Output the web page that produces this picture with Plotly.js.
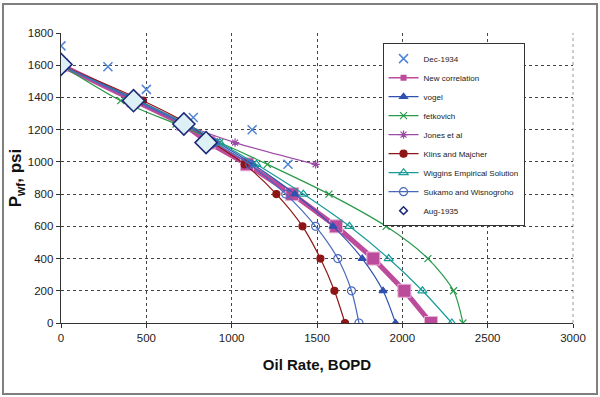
<!DOCTYPE html>
<html>
<head>
<meta charset="utf-8">
<script src="https://cdn.plot.ly/plotly-3.0.1.min.js"></script>
<style>
html,body{margin:0;padding:0;background:#fff;}
#chart{width:600px;height:397px;}
</style>
</head>
<body>
<div id="chart"></div>
<script>
// Pressure levels used by the IPR models (psi)
var modelP = [1600, 1380, 1235, 1120, 985, 800, 600, 400, 200, 0];
var jonesP = [1600, 1380, 1235, 1120, 985];

// Test data
var dec1934Q = [0, 275, 500, 775, 1120, 1330];
var dec1934P = [1720, 1590, 1450, 1275, 1200, 985];
var aug1935Q = [0, 425, 720, 850];
var aug1935P = [1605, 1380, 1235, 1120];

// Model rates (BOPD)
var newCorrQ = [0, 425, 715, 865, 1090, 1355, 1612, 1830, 2012, 2168];
var vogelQ   = [0, 456, 723, 917, 1124, 1370, 1594, 1765, 1887, 1960];
var fetkQ    = [0, 350, 674, 930, 1209, 1570, 1905, 2150, 2300, 2355];
var jonesQ   = [0, 430, 720, 1020, 1492];
var klinsQ   = [0, 480, 745, 890, 1076, 1262, 1415, 1520, 1602, 1664];
var wigginsQ = [0, 450, 735, 930, 1145, 1420, 1690, 1920, 2118, 2290];
var sukamoQ  = [0, 440, 720, 900, 1106, 1317, 1492, 1622, 1702, 1746];

var seriesNames = ["Dec-1934", "New correlation", "vogel", "fetkovich", "Jones et al",
  "Klins and Majcher", "Wiggins Empirical Solution", "Sukamo and Wisnogroho", "Aug-1935"];

var xTicks = [0, 500, 1000, 1500, 2000, 2500, 3000];
var yTicks = [0, 200, 400, 600, 800, 1000, 1200, 1400, 1600, 1800];

var FONT = "Arial, 'Liberation Sans', sans-serif";

function model(name, q, p, color, symbol, size, rank) {
  return {
    type: "scatter", mode: "lines+markers", name: name, x: q, y: p,
    line: {color: color, width: 1.2, shape: "spline", smoothing: 0.8},
    marker: {color: color, symbol: symbol, size: size, line: {color: color, width: 1.2}},
    legendrank: rank
  };
}

var traces = [
  {type: "scatter", mode: "markers", name: seriesNames[0], x: dec1934Q, y: dec1934P,
   marker: {symbol: "x-thin-open", size: 9, color: "#4f86d6", line: {color: "#4f86d6", width: 1.5}},
   legendrank: 1},
  {type: "scatter", mode: "lines+markers", name: seriesNames[1], x: newCorrQ, y: modelP,
   line: {color: "#bd4b9c", width: 5},
   marker: {symbol: "square", size: 13, color: "#bd4b9c", line: {color: "#e7b3d8", width: 1}},
   showlegend: false, legendgroup: "nc"},
  {type: "scatter", mode: "lines+markers", name: seriesNames[1], x: [null], y: [null],
   line: {color: "#bd4b9c", width: 1.5},
   marker: {symbol: "square", size: 6, color: "#bd4b9c"},
   legendgroup: "nc", legendrank: 2},
  model(seriesNames[2], vogelQ, modelP, "#2f51b0", "triangle-up", 7, 3),
  model(seriesNames[3], fetkQ, modelP, "#2a9a4a", "x-thin", 7, 4),
  model(seriesNames[4], jonesQ, jonesP, "#9c4aa6", "asterisk-open", 7, 5),
  model(seriesNames[5], klinsQ, modelP, "#8e1515", "circle", 7, 6),
  model(seriesNames[6], wigginsQ, modelP, "#189a98", "triangle-up-open", 8, 7),
  model(seriesNames[7], sukamoQ, modelP, "#4868bd", "circle-open", 8, 8),
  {type: "scatter", mode: "markers", name: seriesNames[8], x: aug1935Q, y: aug1935P,
   marker: {symbol: "diamond", size: 17, color: "#dcf0f6", line: {color: "#1c2a78", width: 1.6}},
   showlegend: false, legendgroup: "aug"},
  {type: "scatter", mode: "markers", name: seriesNames[8], x: [null], y: [null],
   marker: {symbol: "diamond", size: 6, color: "#ffffff", line: {color: "#1c2a78", width: 1.5}},
   legendgroup: "aug", legendrank: 9}
];

var layout = {
  width: 600, height: 397,
  margin: {l: 61, r: 27, t: 33, b: 74, pad: 0},
  paper_bgcolor: "#ffffff", plot_bgcolor: "#ffffff",
  font: {family: FONT, size: 11, color: "#222"},
  showlegend: true,
  legend: {
    x: 0.628, y: 0.965, xanchor: "left", yanchor: "top",
    bgcolor: "#ffffff", bordercolor: "#333", borderwidth: 1,
    font: {family: FONT, size: 8, color: "#222"},
    itemwidth: 30, tracegroupgap: 0, traceorder: "normal"
  },
  xaxis: {
    range: [0, 3000], tickvals: xTicks, ticktext: xTicks.map(String),
    showgrid: true, gridcolor: "#444", griddash: "dot", gridwidth: 1,
    showline: true, linecolor: "#333", linewidth: 1.3,
    ticks: "outside", ticklen: 4, tickcolor: "#333",
    zeroline: false, mirror: false,
    tickfont: {family: FONT, size: 11.5, color: "#222"},
    title: {text: "<b>Oil Rate, BOPD</b>", font: {family: FONT, size: 15, color: "#111"}, standoff: 16}
  },
  yaxis: {
    range: [0, 1800], tickvals: yTicks, ticktext: yTicks.map(String),
    showgrid: true, gridcolor: "#444", griddash: "dot", gridwidth: 1,
    showline: true, linecolor: "#333", linewidth: 1.3,
    ticks: "outside", ticklen: 4, tickcolor: "#333",
    zeroline: false,
    tickfont: {family: FONT, size: 11.5, color: "#222"},
    title: {text: "<b>P<sub>wf</sub>, psi</b>", font: {family: FONT, size: 17, color: "#111"}, standoff: 1}
  },
  shapes: [
    {type: "line", xref: "paper", yref: "paper", x0: 1, x1: 1, y0: 0, y1: 1,
     line: {color: "#999", width: 1, dash: "dot"}, layer: "below"},
    {type: "rect", xref: "paper", yref: "paper", x0: -0.1133, x1: 1.0469, y0: -0.2448, y1: 1.1,
     line: {color: "#7f7f7f", width: 2}, fillcolor: "rgba(0,0,0,0)"}
  ]
};

Plotly.newPlot("chart", traces, layout, {displayModeBar: false, staticPlot: true});
</script>
</body>
</html>
